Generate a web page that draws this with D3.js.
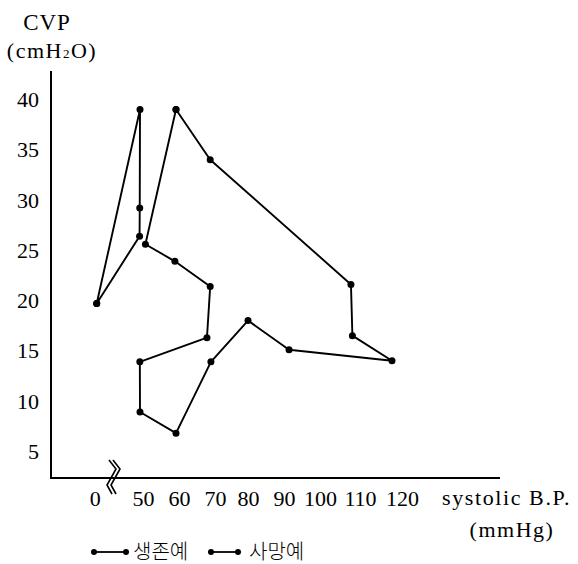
<!DOCTYPE html>
<html>
<head>
<meta charset="utf-8">
<script src="https://cdn.jsdelivr.net/npm/d3@7"></script>
<style>
  body { margin: 0; background: #fff; }
  svg { display: block; }
  text { font-family: "Liberation Serif", "DejaVu Serif", serif; fill: #000; }
  .ko { font-family: "Noto Sans CJK KR", sans-serif; }
</style>
</head>
<body>
<div id="chart"></div>
<script>
// systolic B.P. (mmHg) and CVP (cmH2O) per group
const seriesNames = ['생존예', '사망예'];

const survivedBP  = [0, 50, 49.7, 49.5, 0];
const survivedCVP = [19.7, 39, 29.2, 26.4, 19.7];

const diedBP  = [60, 69.5, 108.6, 109, 120, 91.4, 80, 69.7, 60, 50, 49.8, 68.6, 69.5, 59.7, 51.5, 60];
const diedCVP = [39, 34, 21.6, 16.5, 14, 15.1, 18, 13.9, 6.8, 8.9, 13.9, 16.3, 21.4, 23.9, 25.6, 39];

const xTicks = [0, 50, 60, 70, 80, 90, 100, 110, 120];
const yTicks = [5, 10, 15, 20, 25, 30, 35, 40];

const width = 578, height = 564;
const axisX = 51, axisY = 478;

const svg = d3.select('#chart')
  .append('svg')
    .attr('width', width)
    .attr('height', height);

svg.append('rect').attr('width', width).attr('height', height).attr('fill', '#fff');

// broken axis: 0 sits just left of the break, 50..120 linear
const x = d3.scaleLinear()
  .domain([0, 50, 120])
  .range([96.7, 140, 392]);

const y = d3.scaleLinear()
  .domain([0, 40])
  .range([501.5, 99.5]);

// axis lines
svg.append('line')
  .attr('x1', axisX).attr('x2', axisX)
  .attr('y1', 71).attr('y2', axisY + 1)
  .attr('stroke', '#000').attr('stroke-width', 2);

svg.append('line')
  .attr('x1', axisX - 1).attr('x2', 500)
  .attr('y1', axisY).attr('y2', axisY)
  .attr('stroke', '#000').attr('stroke-width', 2);

const yAxis = svg.append('g')
  .attr('transform', `translate(${axisX}, 0)`)
  .call(d3.axisLeft(y).tickValues(yTicks).tickSize(0).tickPadding(12));
yAxis.select('.domain').remove();

const xAxis = svg.append('g')
  .attr('transform', `translate(0, ${axisY})`)
  .call(d3.axisBottom(x).tickValues(xTicks).tickSize(0).tickPadding(12));
xAxis.select('.domain').remove();

svg.selectAll('.tick text')
  .attr('font-size', 22)
  .attr('font-family', '"Liberation Serif", serif');

// the printed labels are set a little looser than the scale
xAxis.selectAll('.tick text')
  .attr('dx', (d) => d === 0 ? -2 : d <= 70 ? 3 : d <= 100 ? 0 : d === 110 ? 4 : 10);

// break mark on the x axis
[0, 4].forEach((dx) => {
  svg.append('path')
    .attr('d', `M${109 + dx},460 L${116 + dx},469 L${107 + dx},485 L${112 + dx},494`)
    .attr('fill', 'none')
    .attr('stroke', '#000')
    .attr('stroke-width', 1.6);
});

// axis titles
svg.append('text')
  .attr('x', 47).attr('y', 30)
  .attr('text-anchor', 'middle')
  .attr('font-size', 23)
  .attr('letter-spacing', 1)
  .text('CVP');

const unit = svg.append('text')
  .attr('x', 52).attr('y', 58)
  .attr('text-anchor', 'middle')
  .attr('font-size', 22)
  .attr('letter-spacing', 1.5);
unit.append('tspan').text('(cmH');
unit.append('tspan').attr('font-size', 13).text('2');
unit.append('tspan').text('O)');

svg.append('text')
  .attr('x', 442).attr('y', 505)
  .attr('font-size', 22)
  .attr('letter-spacing', 1.6)
  .text('systolic B.P.');

svg.append('text')
  .attr('x', 512).attr('y', 537)
  .attr('text-anchor', 'middle')
  .attr('font-size', 22)
  .attr('letter-spacing', 1.5)
  .text('(mmHg)');

// data
const line = d3.line()
  .x((d) => x(d[0]))
  .y((d) => y(d[1]));

const groups = [
  d3.zip(survivedBP, survivedCVP),
  d3.zip(diedBP, diedCVP)
];

groups.forEach((pts) => {
  svg.append('path')
    .datum(pts)
    .attr('fill', 'none')
    .attr('stroke', '#000')
    .attr('stroke-width', 1.9)
    .attr('stroke-linejoin', 'round')
    .attr('d', line);

  svg.append('g')
    .selectAll('circle')
    .data(pts)
    .join('circle')
      .attr('cx', (d) => x(d[0]))
      .attr('cy', (d) => y(d[1]))
      .attr('r', 3.5)
      .attr('fill', '#000');
});

// legend
const legendItems = [
  {name: seriesNames[0], x0: 94, x1: 126, tx: 133},
  {name: seriesNames[1], x0: 211, x1: 238, tx: 249}
];
const ly = 552;
legendItems.forEach((item) => {
  const g = svg.append('g');
  g.append('line')
    .attr('x1', item.x0).attr('x2', item.x1)
    .attr('y1', ly).attr('y2', ly)
    .attr('stroke', '#000').attr('stroke-width', 1.8);
  g.selectAll('circle')
    .data([item.x0, item.x1])
    .join('circle')
      .attr('cx', (d) => d)
      .attr('cy', ly)
      .attr('r', 3)
      .attr('fill', '#000');
  g.append('text')
    .attr('class', 'ko')
    .attr('x', item.tx).attr('y', ly + 7)
    .attr('font-size', 20)
    .attr('font-weight', 300)
    .text(item.name);
});
</script>
</body>
</html>
